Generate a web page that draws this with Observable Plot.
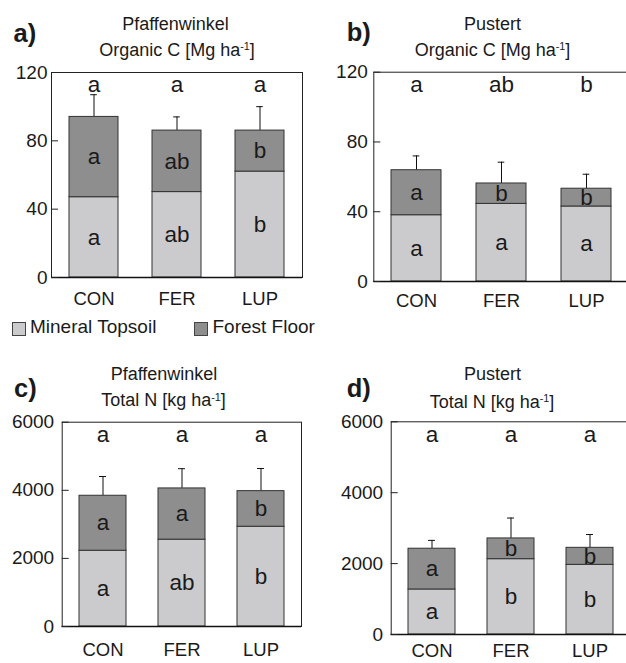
<!DOCTYPE html>
<html>
<head>
<meta charset="utf-8">
<script src="https://cdn.jsdelivr.net/npm/d3@7"></script>
<script src="https://cdn.jsdelivr.net/npm/@observablehq/plot@0.6"></script>
<style>
  body { margin: 0; background: #fff; font-family: "Liberation Sans", Arial, sans-serif; }
  #root { position: relative; width: 626px; height: 663px; overflow: hidden; color: #1a1a1a; background: #fff; }
  .t { position: absolute; white-space: nowrap; line-height: 1; }
  .t sup { font-size: 0.6em; vertical-align: 0; position: relative; top: -0.55em; line-height: 0; }
  .panel { position: absolute; }
  .sw { position: absolute; width: 12px; height: 12px; border: 1px solid #444; }
</style>
</head>
<body>
<div id="root"></div>
<script>
// ---------- data ----------
const treatments = ["CON", "FER", "LUP"];

// a) Pfaffenwinkel, Organic C [Mg ha-1]
const pfC_mineral = [47, 50, 62];
const pfC_forest  = [47, 36, 24];
const pfC_sd      = [13, 8, 14];
const pfC_topLetters     = ["a", "a", "a"];
const pfC_forestLetters  = ["a", "ab", "b"];
const pfC_mineralLetters = ["a", "ab", "b"];

// b) Pustert, Organic C [Mg ha-1]
const puC_mineral = [38, 44.5, 43];
const puC_forest  = [25.8, 11.7, 10.2];
const puC_sd      = [8.2, 12.2, 8.3];
const puC_topLetters     = ["a", "ab", "b"];
const puC_forestLetters  = ["a", "b", "b"];
const puC_mineralLetters = ["a", "a", "a"];

// c) Pfaffenwinkel, Total N [kg ha-1]
const pfN_mineral = [2225, 2550, 2930];
const pfN_forest  = [1615, 1505, 1045];
const pfN_sd      = [565, 580, 665];
const pfN_topLetters     = ["a", "a", "a"];
const pfN_forestLetters  = ["a", "a", "b"];
const pfN_mineralLetters = ["a", "ab", "b"];

// d) Pustert, Total N [kg ha-1]
const puN_mineral = [1270, 2125, 1965];
const puN_forest  = [1150, 585, 480];
const puN_sd      = [235, 575, 375];
const puN_topLetters     = ["a", "a", "a"];
const puN_forestLetters  = ["a", "b", "b"];
const puN_mineralLetters = ["a", "b", "b"];

const cTicks = [0, 40, 80, 120];
const nTicks = [0, 2000, 4000, 6000];

const legendLabels = ["Mineral Topsoil", "Forest Floor"];

// ---------- drawing ----------
const COL_MINERAL = "#cbcbcd";
const COL_FOREST = "#8e8e8e";
const root = document.getElementById("root");

function panel(o) {
  const rows = treatments.map((t, i) => ({
    t,
    m: o.mineral[i],
    tot: o.mineral[i] + o.forest[i],
    err: o.mineral[i] + o.forest[i] + o.sd[i],
    top: o.top[i], fl: o.forestL[i], ml: o.mineralL[i]
  }));
  const innerW = o.w - o.mL - o.mR;
  const bw = innerW / 3 * (1 - 0.41);
  const capInset = (bw - 7) / 2;
  const yMax = o.ticks[o.ticks.length - 1];
  const svg = Plot.plot({
    width: o.w, height: o.h,
    marginLeft: o.mL, marginRight: o.mR, marginTop: o.mT, marginBottom: o.mB,
    style: { fontFamily: "'Liberation Sans', Arial, sans-serif", background: "transparent", overflow: "visible", maxWidth: "none", color: "#1a1a1a" },
    x: { domain: treatments, paddingInner: 0.41, paddingOuter: 0.205, label: null },
    y: { domain: [0, yMax], label: null },
    marks: [
      Plot.ruleX(rows, { x: "t", y1: "tot", y2: "err", stroke: "#111", strokeWidth: 1 }),
      Plot.tickY(rows, { x: "t", y: "err", insetLeft: capInset, insetRight: capInset, stroke: "#111", strokeWidth: 1 }),
      Plot.barY(rows, { x: "t", y1: 0, y2: "m", fill: COL_MINERAL, stroke: "#333", strokeWidth: 1 }),
      Plot.barY(rows, { x: "t", y1: "m", y2: "tot", fill: COL_FOREST, stroke: "#333", strokeWidth: 1 }),
      Plot.text(rows, { x: "t", y: d => d.m / 2, text: "ml", fontSize: 22.5, fill: "#1a1a1a" }),
      Plot.text(rows, { x: "t", y: d => (d.m + d.tot) / 2, text: "fl", fontSize: 22.5, fill: "#1a1a1a" }),
      Plot.text(rows, { x: "t", y: () => yMax * 0.94, text: "top", fontSize: 22.5, fill: "#1a1a1a" }),
      Plot.frame({ stroke: "#222", strokeWidth: 1 }),
      Plot.ruleY([0], { stroke: "#111", strokeWidth: 1.6 }),
      Plot.ruleY(o.ticks, { stroke: "#222", insetRight: innerW - 7 }),
      Plot.axisY(o.ticks, { tickSize: 0, tickPadding: o.yPad, fontSize: 19, tickFormat: d3.format("d"), fill: "#1a1a1a" }),
      Plot.axisX({ tickSize: 0, tickPadding: o.xPad, fontSize: 18.5, fill: "#1a1a1a" })
    ]
  });
  svg.classList.add("panel");
  svg.style.left = o.left + "px";
  svg.style.top = o.topPx + "px";
  root.appendChild(svg);
}

panel({ mineral: pfC_mineral, forest: pfC_forest, sd: pfC_sd, top: pfC_topLetters, forestL: pfC_forestLetters, mineralL: pfC_mineralLetters,
  ticks: cTicks, left: 0, topPx: 0, w: 320, h: 317, mL: 51, mR: 18, mT: 72, mB: 40, yPad: 4, xPad: 14 });
panel({ mineral: puC_mineral, forest: puC_forest, sd: puC_sd, top: puC_topLetters, forestL: puC_forestLetters, mineralL: puC_mineralLetters,
  ticks: cTicks, left: 320, topPx: 0, w: 320, h: 321, mL: 53.3, mR: 10.7, mT: 71.7, mB: 40, yPad: 6, xPad: 12 });
panel({ mineral: pfN_mineral, forest: pfN_forest, sd: pfN_sd, top: pfN_topLetters, forestL: pfN_forestLetters, mineralL: pfN_mineralLetters,
  ticks: nTicks, left: 0, topPx: 340, w: 320, h: 323, mL: 61.7, mR: 19, mT: 81.7, mB: 37, yPad: 8, xPad: 16 });
panel({ mineral: puN_mineral, forest: puN_forest, sd: puN_sd, top: puN_topLetters, forestL: puN_forestLetters, mineralL: puN_mineralLetters,
  ticks: nTicks, left: 320, topPx: 340, w: 320, h: 323, mL: 70.7, mR: 10.3, mT: 81.3, mB: 29, yPad: 8, xPad: 9 });

// ---------- titles ----------
function addText(html, x, baseline, size, opts = {}) {
  const d = document.createElement("div");
  d.className = "t";
  d.innerHTML = html;
  d.style.fontSize = size + "px";
  d.style.height = size + "px";
  d.style.top = (baseline - 0.8465 * size) + "px";
  d.style.left = x + "px";
  if (opts.bold) d.style.fontWeight = "bold";
  if (opts.center) d.style.transform = "translateX(-50%)";
  root.appendChild(d);
}
addText("a)", 13.5, 43, 25.5, { bold: true });
addText("Pfaffenwinkel", 175.5, 30.7, 18, { center: true });
addText("Organic C [Mg ha<sup>-1</sup>]", 177, 56, 18, { center: true });

addText("b)", 346.7, 42, 25.5, { bold: true });
addText("Pustert", 492.5, 30.7, 18, { center: true });
addText("Organic C [Mg ha<sup>-1</sup>]", 492.5, 56, 18, { center: true });

addText("c)", 14, 398, 25.5, { bold: true });
addText("Pfaffenwinkel", 164, 380, 18, { center: true });
addText("Total N [kg ha<sup>-1</sup>]", 163.5, 406.7, 18, { center: true });

addText("d)", 346.7, 398, 25.5, { bold: true });
addText("Pustert", 492.5, 380, 18, { center: true });
addText("Total N [kg ha<sup>-1</sup>]", 492, 408, 18, { center: true });

// ---------- legend ----------
const legendItems = [
  { label: legendLabels[0], color: COL_MINERAL, x: 11.5 },
  { label: legendLabels[1], color: COL_FOREST, x: 194 }
];
legendItems.forEach(it => {
  const s = document.createElement("div");
  s.className = "sw";
  s.style.left = it.x + "px";
  s.style.top = "322px";
  s.style.background = it.color;
  root.appendChild(s);
  addText(it.label, it.x + 18.5, 333.5, 19);
});
</script>
</body>
</html>
